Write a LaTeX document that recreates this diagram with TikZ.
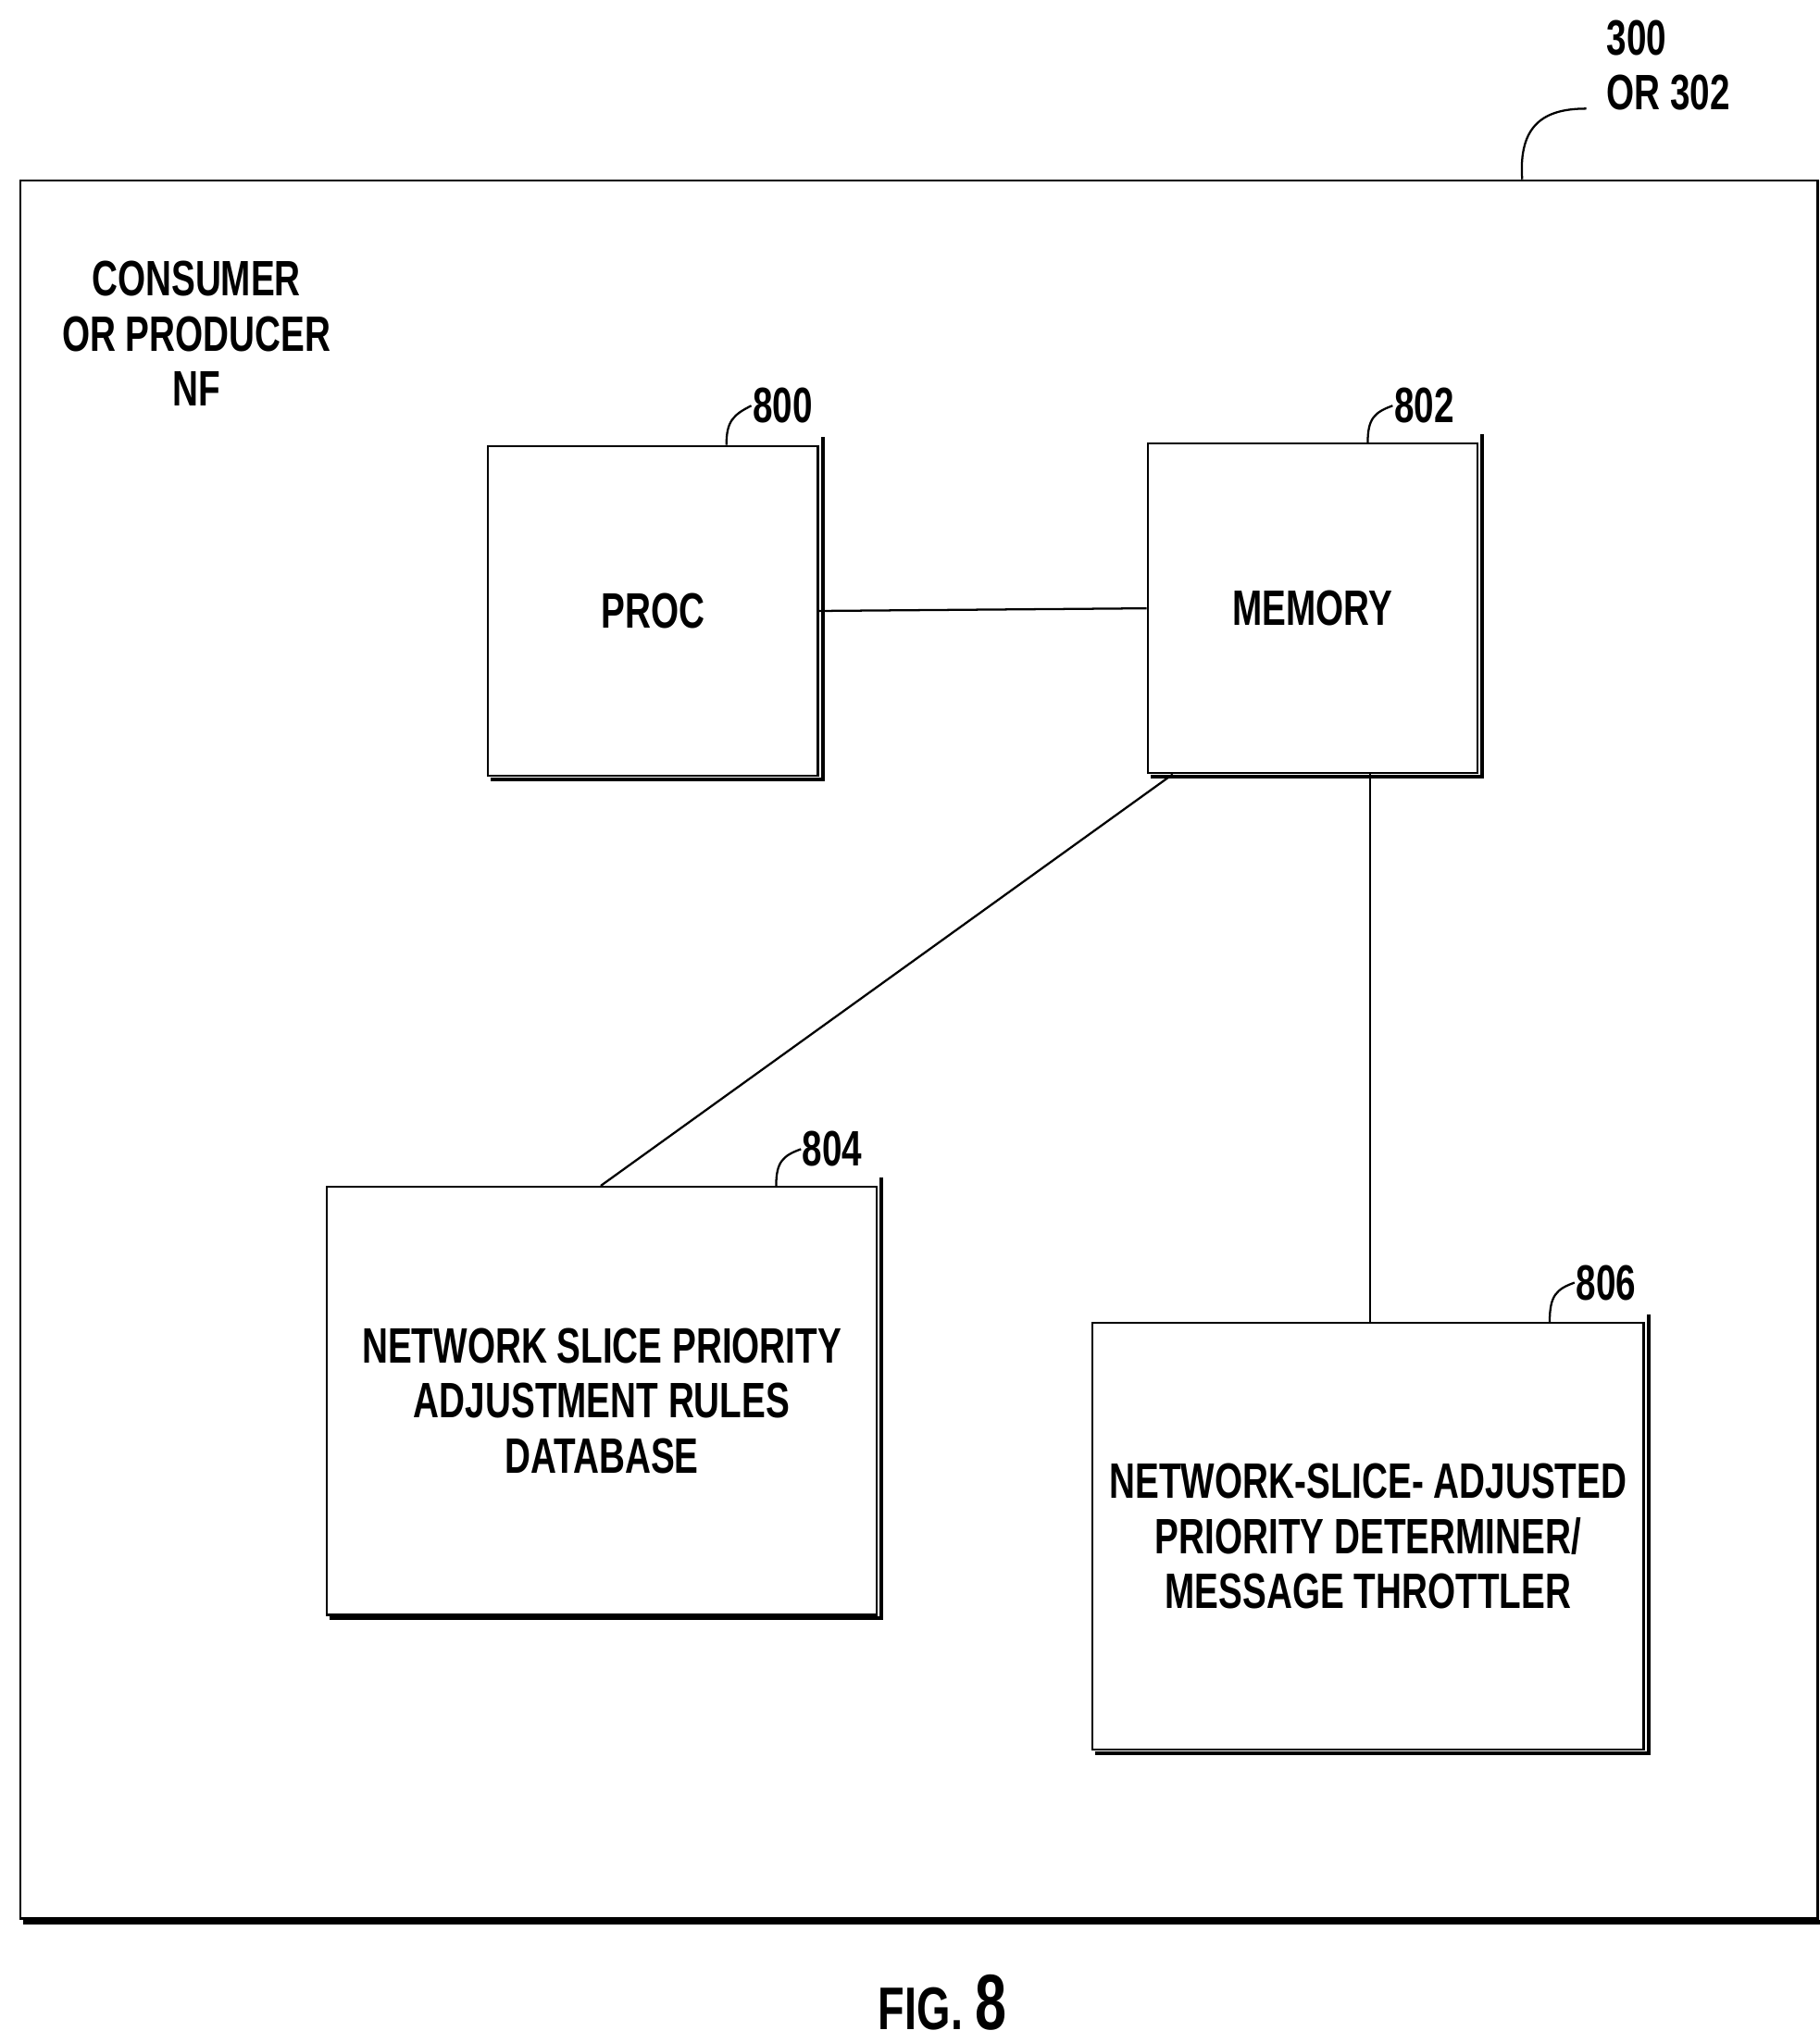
\documentclass[tikz,border=0pt]{standalone}
\usepackage{fontspec}
\setmainfont{Liberation Sans}[FakeStretch=0.72]
\usetikzlibrary{positioning}

\begin{document}
\begin{tikzpicture}[
  x=1pt, y=-1pt,
  font=\bfseries\fontsize{38}{48}\selectfont,
  blk/.style={draw=black, line width=1.6pt, align=center, anchor=north west, inner sep=0pt},
  wire/.style={line width=1.6pt},
  lead/.style={line width=1.6pt},
  num/.style={anchor=west, inner sep=1pt},
]
  \useasboundingbox (0,0) rectangle (1390,1561);

  % outer NF frame
  \node[blk, minimum width=1373pt, minimum height=1328pt] (nf) at (15,137) {};
  \node[align=center] (nft) at (150,255) {CONSUMER\\[-6pt]OR PRODUCER\\[-6pt]NF};
  \node[align=left, anchor=north west] (nfn) at (1224,12) {300\\[-6pt]OR 302};
  \draw[lead] (1163,137) .. controls (1160,95) and (1180,83) .. (1212,83);

  % blocks
  \node[blk, minimum width=252pt, minimum height=252pt] (proc) at (372,340) {PROC};
  \node[blk, minimum width=252pt, minimum height=252pt] (mem) at (876,338) {MEMORY};
  \node[blk, minimum width=420pt, minimum height=327pt] (db) at (249,906)
    {NETWORK SLICE PRIORITY\\[-6pt]ADJUSTMENT RULES\\[-6pt]DATABASE};
  \node[blk, minimum width=421pt, minimum height=326pt] (thr) at (834,1010)
    {NETWORK-SLICE- ADJUSTED\\[-6pt]PRIORITY DETERMINER/\\[-6pt]MESSAGE THROTTLER};

  % shadows
  \foreach \b in {nf,proc,mem,db,thr}
    \draw[line width=3pt] ([xshift=3pt,yshift=6pt]\b.north east) -- ([xshift=3pt,yshift=-2pt]\b.south east)
      -- ([xshift=3pt,yshift=-2pt]\b.south west);

  % reference numerals
  \node[num] (n800) at (574,310) {800};
  \draw[lead] (555,340) .. controls (555,322) and (560,317) .. (n800.west);
  \node[num] (n802) at (1064,310) {802};
  \draw[lead] (1045,338) .. controls (1045,320) and (1050,315) .. (n802.west);
  \node[num] (n804) at (612,878) {804};
  \draw[lead] (593,906) .. controls (593,888) and (598,883) .. (n804.west);
  \node[num] (n806) at (1203,980) {806};
  \draw[lead] (1184,1010) .. controls (1184,990) and (1189,985) .. (n806.west);

  % connections
  \draw[wire] (proc.east) -- (mem.west);
  \draw[wire] ([xshift=20pt]mem.south west) -- ([xshift=210pt]db.north west);
  \draw[wire] ([xshift=171pt]mem.south west) -- ([xshift=213pt]thr.north west);

  \node[font=\bfseries\fontsize{46}{50}\selectfont] (fig) at (720,1530) {FIG. \fontsize{60}{60}\selectfont 8};
\end{tikzpicture}
\end{document}
